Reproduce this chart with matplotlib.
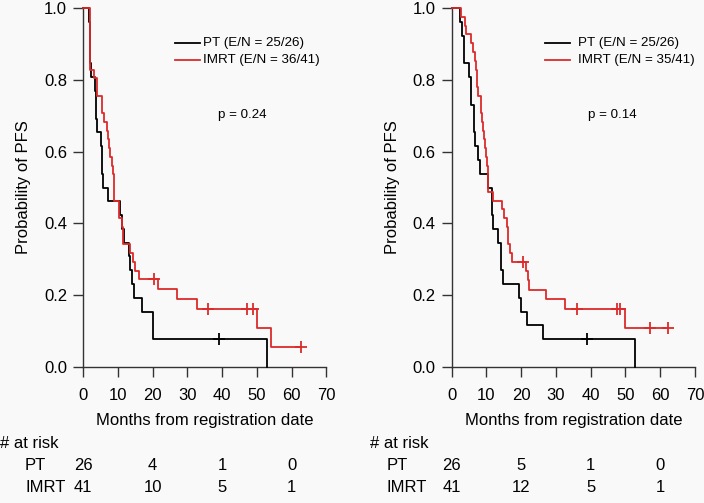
import numpy as np
import matplotlib
matplotlib.use("Agg")
import matplotlib.pyplot as plt

plt.rcParams['font.family'] = ['Liberation Sans', 'DejaVu Sans']

# ---------------- data ----------------
# Left panel
L_pt_t = [1.8, 1.9, 2.0, 2.1, 2.2, 3.5, 3.6, 3.7, 3.9, 5.1, 5.5, 5.6, 5.7, 7.3, 10.7,
          11.2, 11.7, 13.1, 13.6, 14.1, 14.7, 17.0, 20.1, 52.9]
L_pt_s = [0.962, 0.923, 0.885, 0.846, 0.808, 0.769, 0.731, 0.692, 0.654, 0.615, 0.577,
          0.538, 0.500, 0.462, 0.423, 0.385, 0.346, 0.308, 0.269, 0.231, 0.192, 0.154,
          0.077, 0.0]
L_pt_c = [39.1]
L_pt_end = 52.9

L_im_t = [2.0, 3.2, 3.9, 5.4, 5.9, 7.0, 7.3, 7.6, 7.9, 8.2, 8.5, 8.8, 9.0, 10.5, 11.2,
          11.6, 13.6, 14.3, 15.0, 16.0, 21.5, 27.0, 32.7, 50.0, 54.0]
L_im_s = [0.829, 0.805, 0.756, 0.707, 0.683, 0.659, 0.634, 0.610, 0.585, 0.561, 0.537,
          0.488, 0.463, 0.415, 0.390, 0.341, 0.317, 0.293, 0.268, 0.244, 0.218, 0.190,
          0.162, 0.109, 0.054]
L_im_c = [20.5, 36.0, 47.1, 48.8, 62.7]
L_im_end = 62.7

# Right panel
R_pt_t = [2.4, 3.0, 3.6, 4.9, 5.5, 6.4, 6.8, 7.6, 8.0, 10.5, 11.5, 12.0, 13.4, 14.2,
          14.7, 19.5, 19.9, 21.6, 26.4, 52.7]
R_pt_s = [0.962, 0.923, 0.846, 0.808, 0.731, 0.654, 0.615, 0.577, 0.538, 0.500, 0.423,
          0.385, 0.346, 0.269, 0.231, 0.192, 0.154, 0.115, 0.077, 0.0]
R_pt_c = [39.0]
R_pt_end = 52.7

R_im_t = [2.6, 3.7, 4.2, 5.5, 6.1, 6.8, 7.0, 7.2, 7.4, 7.6, 8.3, 8.5, 8.7, 9.0, 9.3,
          9.6, 9.9, 10.1, 10.4, 10.5, 12.0, 14.6, 15.0, 15.8, 16.3, 16.8, 17.3, 21.3,
          21.9, 22.2, 27.0, 32.6, 49.9]
R_im_s = [0.976, 0.951, 0.927, 0.902, 0.878, 0.854, 0.829, 0.805, 0.780, 0.756, 0.732,
          0.707, 0.683, 0.659, 0.634, 0.610, 0.585, 0.561, 0.537, 0.488, 0.463, 0.439,
          0.415, 0.390, 0.341, 0.317, 0.293, 0.268, 0.242, 0.215, 0.188, 0.161, 0.107]
R_im_c = [20.6, 36.0, 47.5, 48.4, 57.1, 62.3]
R_im_end = 62.3

legend_left = ["PT (E/N = 25/26)", "IMRT (E/N = 36/41)"]
legend_right = ["PT (E/N = 25/26)", "IMRT (E/N = 35/41)"]
p_left = "p = 0.24"
p_right = "p = 0.14"

risk_times = [0, 20, 40, 60]
L_risk_pt = [26, 4, 1, 0]
L_risk_im = [41, 10, 5, 1]
R_risk_pt = [26, 5, 1, 0]
R_risk_im = [41, 12, 5, 1]

x_ticks = [0, 10, 20, 30, 40, 50, 60, 70]
y_ticks = [0.0, 0.2, 0.4, 0.6, 0.8, 1.0]

RED = "#dd2a2a"
BG = "#f9f9f9"
AXC = "#333333"

W, H = 704, 503
fig = plt.figure(figsize=(W / 100, H / 100), dpi=100, facecolor=BG)

FS = 12
LEG_FS = 9.6


def step_value(times, surv, t):
    idx = np.searchsorted(np.asarray(times), t, side='right') - 1
    return 1.0 if idx < 0 else surv[idx]


def km(ax, times, surv, cens, end, color):
    x = [0.0] + list(times) + [end]
    y = [1.0] + list(surv) + [surv[-1]]
    ax.plot(x, y, drawstyle='steps-post', color=color, lw=1.3, clip_on=False, zorder=3)
    cy = [step_value(times, surv, c) for c in cens]
    ax.plot(cens, cy, ls='none', marker='+', ms=8, mew=1.3, color=color,
            clip_on=False, zorder=4)


def panel(x0px, pt, im, leg, ptxt, rpt, rim, leg_px, p_px, risk_label_px):
    left = x0px / W
    width = 243.3 / W
    ax = fig.add_axes([left, (H - 366.7) / H, width, 358.4 / H])
    ax.set_facecolor(BG)
    ax.set_xlim(0, 70)
    ax.set_ylim(0, 1)
    for s in ['top', 'right']:
        ax.spines[s].set_visible(False)
    for s in ['left', 'bottom']:
        ax.spines[s].set_color(AXC)
        ax.spines[s].set_linewidth(1.0)
    ax.spines['left'].set_bounds(0, 1)
    ax.spines['bottom'].set_bounds(0, 70)
    ax.set_xticks(x_ticks)
    ax.set_yticks(y_ticks)
    ax.set_yticklabels([f"{v:.1f}" for v in y_ticks])
    ax.tick_params(axis='both', colors=AXC, labelcolor='black', length=7.5,
                   width=1.0, labelsize=FS)
    ax.tick_params(axis='x', pad=8)
    ax.tick_params(axis='y', pad=4)
    ax.set_ylabel("Probability of PFS", fontsize=FS, labelpad=9)
    ax.set_xlabel("Months from registration date", fontsize=FS, labelpad=7)

    km(ax, *pt, 'black')
    km(ax, *im, RED)

    # legend
    lx0, lx1, tx, ys = leg_px
    for (yy, col, lab) in zip(ys, ['black', RED], leg):
        fig.add_artist(plt.Line2D([lx0 / W, lx1 / W], [1 - yy / H, 1 - yy / H],
                                  color=col, lw=1.3))
        fig.text(tx / W, 1 - yy / H, lab, fontsize=LEG_FS, va='center', ha='left')
    fig.text(p_px[0] / W, 1 - p_px[1] / H, ptxt, fontsize=LEG_FS, va='center', ha='left')

    # at-risk table
    trans = ax.get_xaxis_transform()
    hx, lblx = risk_label_px
    fig.text(hx / W, 1 - 443 / H, "# at risk", fontsize=FS, va='center', ha='left')
    fig.text(lblx / W, 1 - 465 / H, "PT", fontsize=FS, va='center', ha='left')
    fig.text(lblx / W, 1 - 487 / H, "IMRT", fontsize=FS, va='center', ha='left')
    for t, a, b in zip(risk_times, rpt, rim):
        ax.text(t, (366.7 - 465) / 358.4, str(a), transform=trans, fontsize=FS,
                ha='center', va='center', clip_on=False)
        ax.text(t, (366.7 - 487) / 358.4, str(b), transform=trans, fontsize=FS,
                ha='center', va='center', clip_on=False)
    return ax


panel(83, (L_pt_t, L_pt_s, L_pt_c, L_pt_end), (L_im_t, L_im_s, L_im_c, L_im_end),
      legend_left, p_left, L_risk_pt, L_risk_im,
      (175, 200, 203, (42.7, 60)), (218, 115), (0, 25))
panel(451.7, (R_pt_t, R_pt_s, R_pt_c, R_pt_end), (R_im_t, R_im_s, R_im_c, R_im_end),
      legend_right, p_right, R_risk_pt, R_risk_im,
      (545, 570, 577.7, (42.7, 60)), (587.7, 115), (370, 387))

fig.savefig("out.png", dpi=100, facecolor=BG)
